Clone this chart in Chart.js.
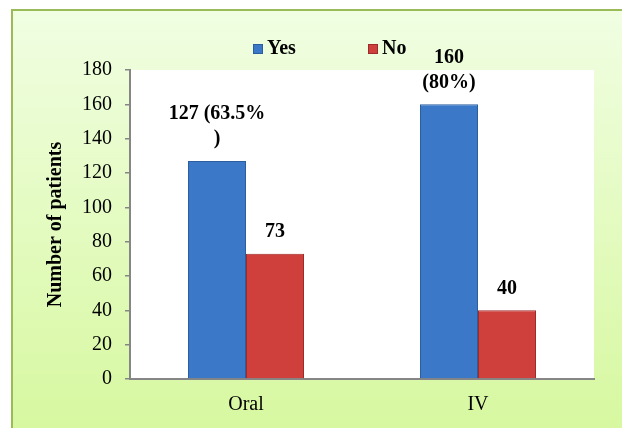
<!DOCTYPE html>
<html>
<head>
<meta charset="utf-8">
<script src="https://cdn.jsdelivr.net/npm/chart.js@4/dist/chart.umd.min.js"></script>
<style>
  html, body { margin: 0; padding: 0; background: #fff; }
  #wrap { width: 622px; height: 428px; }
</style>
</head>
<body>
<div id="wrap"><canvas id="chart" width="622" height="428"></canvas></div>
<script>
// data
var categories = ['Oral', 'IV'];
var yesValues = [127, 160];
var noValues = [73, 40];
var yesLabels = [['127 (63.5%', ')'], ['160', '(80%)']];
var noLabels = [['73'], ['40']];
var yTicks = [0, 20, 40, 60, 80, 100, 120, 140, 160, 180];

var serif = '"Liberation Serif", "Times New Roman", serif';

// green panel behind, white plot area
var backdrop = {
  id: 'backdrop',
  beforeDraw: function (chart) {
    var ctx = chart.ctx, a = chart.chartArea;
    ctx.save();
    var g = ctx.createLinearGradient(0, 0, 0, chart.height);
    g.addColorStop(0, '#f1fee4');
    g.addColorStop(1, '#d7f8a0');
    ctx.fillStyle = g;
    ctx.fillRect(12, 9, chart.width - 12, chart.height - 9);
    ctx.fillStyle = '#9bbb59';
    ctx.fillRect(11, 9, chart.width - 11, 2);
    ctx.fillRect(11, 9, 2, chart.height - 9);
    ctx.fillStyle = '#ffffff';
    ctx.fillRect(a.left, a.top, a.right - a.left, a.bottom - a.top);
    ctx.restore();
  }
};

// legend placed like the original (wide gap between the two entries)
var topLegend = {
  id: 'topLegend',
  afterDraw: function (chart) {
    var ctx = chart.ctx;
    var xs = [253, 368];
    ctx.save();
    ctx.font = 'bold 20px ' + serif;
    ctx.textBaseline = 'middle';
    ctx.textAlign = 'left';
    chart.data.datasets.forEach(function (ds, i) {
      ctx.fillStyle = ds.backgroundColor;
      ctx.fillRect(xs[i], 44, 10, 10);
      ctx.strokeStyle = ds.borderColor;
      ctx.lineWidth = 1;
      ctx.strokeRect(xs[i] + 0.5, 44.5, 9, 9);
      ctx.fillStyle = '#000';
      ctx.fillText(ds.label, xs[i] + 14, 49);
    });
    ctx.restore();
  }
};

// value labels above the bars
var valueLabels = {
  id: 'valueLabels',
  afterDatasetsDraw: function (chart) {
    var ctx = chart.ctx;
    var sets = [yesLabels, noLabels];
    ctx.save();
    ctx.font = 'bold 20px ' + serif;
    ctx.fillStyle = '#000';
    ctx.textAlign = 'center';
    ctx.textBaseline = 'middle';
    sets.forEach(function (labels, di) {
      chart.getDatasetMeta(di).data.forEach(function (bar, i) {
        var lines = labels[i];
        for (var k = 0; k < lines.length; k++) {
          var y = bar.y - 22 - (lines.length - 1 - k) * 25;
          ctx.fillText(lines[k], bar.x, y);
        }
      });
    });
    ctx.restore();
  }
};

new Chart(document.getElementById('chart'), {
  type: 'bar',
  data: {
    labels: categories,
    datasets: [
      {
        label: 'Yes',
        data: yesValues,
        backgroundColor: '#3b78c8',
        borderColor: '#2c5d9e',
        borderWidth: 1,
        borderSkipped: 'bottom'
      },
      {
        label: 'No',
        data: noValues,
        backgroundColor: '#cf3f3b',
        borderColor: '#9c2b29',
        borderWidth: 1,
        borderSkipped: 'bottom'
      }
    ]
  },
  options: {
    responsive: false,
    animation: false,
    layout: { padding: { left: 44, right: 28, top: 70, bottom: 11 } },
    datasets: { bar: { categoryPercentage: 0.5, barPercentage: 1 } },
    plugins: {
      tooltip: { enabled: false },
      legend: { display: false }
    },
    scales: {
      x: {
        afterFit: function (axis) { axis.height = 38; },
        grid: { display: false, drawTicks: false },
        border: { color: '#868686', width: 2 },
        ticks: { font: { family: serif, size: 20 }, color: '#000', padding: 14 }
      },
      y: {
        min: 0,
        max: 180,
        afterBuildTicks: function (axis) {
          axis.ticks = yTicks.map(function (v) { return { value: v }; });
        },
        afterFit: function (axis) { axis.width = 86; },
        grid: { drawOnChartArea: false, tickLength: 5, color: '#868686', lineWidth: 1.5 },
        border: { color: '#868686', width: 2 },
        ticks: { font: { family: serif, size: 20 }, color: '#000', padding: 13 },
        title: {
          display: true,
          text: 'Number of patients',
          font: { family: serif, size: 20, weight: 'bold' },
          color: '#000',
          padding: { top: 0, bottom: 0 }
        }
      }
    }
  },
  plugins: [backdrop, valueLabels, topLegend]
});
</script>
</body>
</html>
